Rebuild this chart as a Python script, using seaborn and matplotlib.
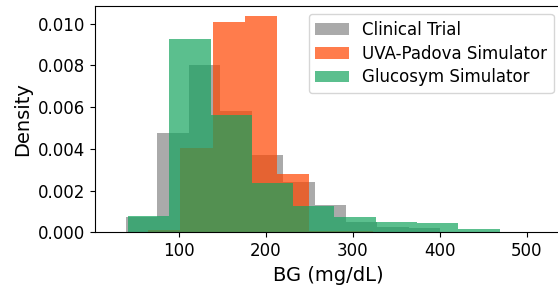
"""BG distribution histograms - clinical trial vs simulators"""
import numpy as np
import pandas as pd
import matplotlib
matplotlib.use("Agg")
import matplotlib.pyplot as plt
import seaborn as sns

# bin ranges (mg/dL) and densities, 10 bins each
trial_range = [39.0, 400.7]
trial_density = [0.00073, 0.00474, 0.00803, 0.00580, 0.00369,
                 0.00242, 0.00130, 0.00050, 0.00027, 0.00020]

uva_range = [27.9, 397.3]
uva_density = [0.00003, 0.00010, 0.00404, 0.01008, 0.01034,
               0.00278, 0.00005, 0.00005, 0.00001, 0.00003]

glucosym_range = [41.4, 516.3]
glucosym_density = [0.00079, 0.00927, 0.00563, 0.00237, 0.00126,
                    0.00073, 0.00048, 0.00044, 0.00016, 0.00003]

labels = ['Clinical Trial', 'UVA-Padova Simulator', 'Glucosym Simulator']
colors = ['#808080', 'orangered', '#15a45f']
alphas = [0.67, 0.7, 0.7]

plt.rcParams['font.family'] = ['DejaVu Sans']
plt.rcParams['xtick.labelsize'] = 12
plt.rcParams['ytick.labelsize'] = 12

fig = plt.figure(figsize=(5.58, 2.91), dpi=100)
# the reference is cropped on the right, so the axes run past the figure edge
ax = fig.add_axes([0.1703, 0.2017, 0.8369, 0.7787])

series = [(trial_range, trial_density),
          (uva_range, uva_density),
          (glucosym_range, glucosym_density)]
for (rng, dens), lab, col, a in zip(series, labels, colors, alphas):
    edges = np.linspace(rng[0], rng[1], len(dens) + 1)
    df = pd.DataFrame({'bg': (edges[:-1] + edges[1:]) / 2, 'w': dens})
    sns.histplot(data=df, x='bg', weights='w', bins=list(edges), stat='count',
                 color=col, alpha=a, linewidth=0, label=lab, ax=ax)

ax.set_xlabel('BG (mg/dL)', fontsize=14)
ax.set_ylabel('Density', fontsize=14)
ax.legend(loc='upper right', fontsize=12, labelspacing=0.35)

fig.savefig('out.png', dpi=100)
